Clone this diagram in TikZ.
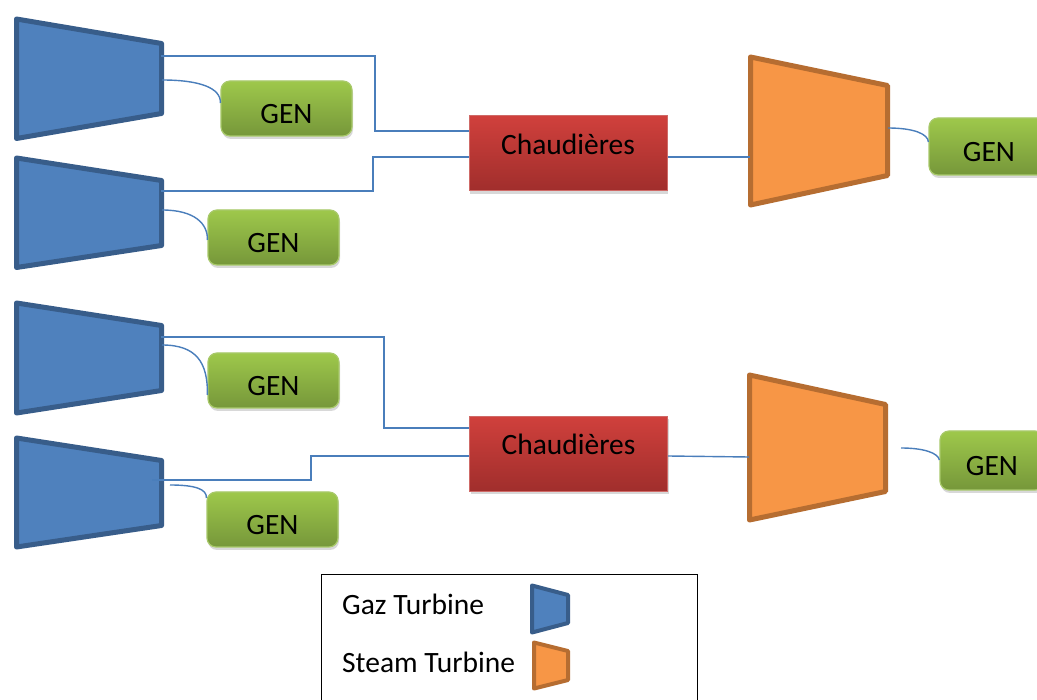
\documentclass[tikz,border=0pt]{standalone}
\usepackage{fontspec}
\setmainfont{Carlito}
\usetikzlibrary{shadows}
\definecolor{gasfill}{HTML}{4F81BD}
\definecolor{gasline}{HTML}{385D8A}
\definecolor{stfill}{HTML}{F79646}
\definecolor{stline}{HTML}{B66D31}
\definecolor{connc}{HTML}{4A7EBB}
\definecolor{gentop}{HTML}{9EC84B}
\definecolor{genbot}{HTML}{76973A}
\definecolor{genline}{HTML}{A8C96A}
\definecolor{boiltop}{HTML}{D0403C}
\definecolor{boilbot}{HTML}{A02E2C}
\definecolor{boilline}{HTML}{CF6A67}
\begin{document}
\begin{tikzpicture}[x=1pt,y=-1pt,
 gas/.style={fill=gasfill,draw=gasline,line width=5pt,line join=round},
 steam/.style={fill=stfill,draw=stline,line width=5pt,line join=round},
 gaslg/.style={fill=gasfill,draw=gasline,line width=4pt,line join=round},
 steamlg/.style={fill=stfill,draw=stline,line width=4pt,line join=round},
 link/.style={draw=connc,line width=1.4pt},
 gen/.style={rectangle,rounded corners=9pt,minimum width=131pt,minimum height=55pt,
   top color=gentop,bottom color=genbot,draw=genline,line width=1.2pt,
   font=\fontsize{29.5}{34}\selectfont,text height=30pt,text depth=0pt,
   drop shadow={shadow xshift=1pt,shadow yshift=-3pt,opacity=0.3}},
 boiler/.style={rectangle,minimum width=198pt,minimum height=75pt,
   top color=boiltop,bottom color=boilbot,draw=boilline,line width=1pt,
   font=\fontsize{29.5}{34}\selectfont,text height=10pt,text depth=8.6pt,
   drop shadow={shadow xshift=1pt,shadow yshift=-3pt,opacity=0.3}},
 lgtext/.style={anchor=base west,font=\fontsize{29.5}{34}\selectfont,inner sep=0pt}
]
\useasboundingbox (0,0) rectangle (1037,700);
\fill[white] (0,0) rectangle (1037,700);

% gas turbines
\draw[gas] (16.5,19) -- (161.5,43.5) -- (161.5,113.5) -- (16.5,138.5) -- cycle;
\draw[gas] (16.5,158) -- (161.5,180.5) -- (161.5,245.5) -- (16.5,267.5) -- cycle;
\draw[gas] (16.5,303) -- (161.5,325.5) -- (161.5,390.5) -- (16.5,413) -- cycle;
\draw[gas] (16.5,438) -- (161.5,460.5) -- (161.5,525.5) -- (16.5,547) -- cycle;
% steam turbines
\draw[steam] (750.5,57) -- (887.5,85.5) -- (887.5,175.5) -- (750.5,205) -- cycle;
\draw[steam] (749.5,375) -- (885.5,404.5) -- (885.5,491.5) -- (749.5,520) -- cycle;

% connection points on turbines
\coordinate (gt1o) at (161,56);
\coordinate (gt1g) at (162,80);
\coordinate (gt2o) at (161,191);
\coordinate (gt2g) at (162,210);
\coordinate (gt3o) at (161,337);
\coordinate (gt3g) at (162,345);
\coordinate (gt4o) at (152,480);
\coordinate (gt4g) at (170,485);
\coordinate (st1i) at (750,157);
\coordinate (st1g) at (888,128);
\coordinate (st2i) at (749,457);
\coordinate (st2g) at (901,448);

% generators
\node[gen] (g1) at (286.5,108.5) {GEN};
\node[gen] (g2) at (273.5,237.5) {GEN};
\node[gen] (g3) at (273.5,380.5) {GEN};
\node[gen] (g4) at (272.5,519.5) {GEN};
\node[gen,minimum width=120pt,minimum height=57pt] (g5) at (989,146.5) {GEN};
\node[gen,minimum width=104pt,minimum height=59pt] (g6) at (992,460.5) {GEN};

% boilers
\node[boiler] (b1) at (568,153.5) {Chaudières};
\node[boiler] (b2) at (568.5,454) {Chaudières};

% connectors top group
\draw[link] (gt1o) -- (375,56) |- ([yshift=22.5pt]b1.west);
\draw[link] (gt2o) -- (373,191) |- ([yshift=-3.5pt]b1.west);
\draw[link] ([yshift=-3.5pt]b1.east) -- (st1i);
\draw[link] (gt1g) .. controls (200,80) and (221,88) .. ([yshift=5.5pt]g1.west);
\draw[link] (gt2g) .. controls (195,210) and (208,224) .. ([yshift=-2.5pt]g2.west);
\draw[link] (st1g) .. controls (914,128) and (928,134) .. ([yshift=4.5pt]g5.west);
% connectors bottom group
\draw[link] (gt3o) -- (384,337) |- ([yshift=26pt]b2.west);
\draw[link] (gt4o) -- (311,480) |- ([yshift=-2pt]b2.west);
\draw[link] ([yshift=-2pt]b2.east) -- (st2i);
\draw[link] (gt3g) .. controls (196,345) and (208,362) .. ([yshift=-14.5pt]g3.west);
\draw[link] (gt4g) .. controls (195,485) and (207,489) .. ([yshift=21.5pt]g4.west);
\draw[link] (st2g) .. controls (924,448) and (938,453) .. ([yshift=0.5pt]g6.west);

% legend
\draw[black,line width=1pt] (321,574) rectangle (697,720);
\node[lgtext] (lg1) at (342,614) {Gaz Turbine};
\node[lgtext] (lg2) at (342,672) {Steam Turbine};
\draw[gaslg] (532,585.5) -- (568,595) -- (568,623) -- (532,632.5) -- cycle;
\draw[steamlg] (534,642.5) -- (568,651) -- (568,680) -- (534,688.5) -- cycle;
\end{tikzpicture}
\end{document}
